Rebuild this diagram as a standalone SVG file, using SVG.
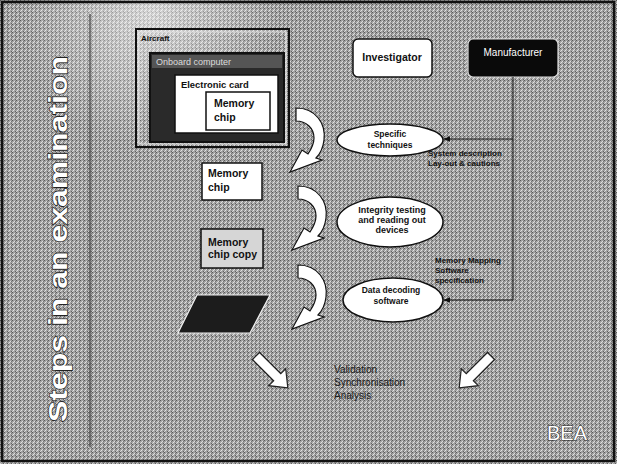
<svg xmlns="http://www.w3.org/2000/svg" width="617" height="464" viewBox="0 0 617 464">
<defs>
<pattern id="dither" width="4" height="4" patternUnits="userSpaceOnUse">
<rect width="4" height="4" fill="#a2a2a2"/>
<rect x="0" y="0" width="1" height="1" fill="#5a5a5a"/>
<rect x="2" y="1" width="1" height="1" fill="#dcdcdc"/>
<rect x="1" y="2" width="1" height="1" fill="#e2e2e2"/>
<rect x="3" y="3" width="1" height="1" fill="#626262"/>
<rect x="3" y="1" width="1" height="1" fill="#767676"/>
<rect x="0" y="3" width="1" height="1" fill="#d0d0d0"/>
</pattern>
<radialGradient id="glow" cx="150" cy="15" r="130" gradientUnits="userSpaceOnUse">
<stop offset="0" stop-color="#fff" stop-opacity="0.55"/>
<stop offset="1" stop-color="#fff" stop-opacity="0"/>
</radialGradient>
<path id="curl" d="M0 0 C20 0 30 16 28 32 C27 40 24 46 20 50 L26 52 L-6 64 L6 42 L12 46 C16 40 18 34 18 30 C18 20 10 13 0 13 Z"/>
<path id="block" d="M0 -5 L30 -5 L30 -12 L45 0 L30 12 L30 5 L0 5 Z"/>
<marker id="ah" viewBox="0 0 10 10" refX="9" refY="5" markerWidth="7" markerHeight="7" orient="auto">
<path d="M0 1 L10 5 L0 9 Z" fill="#111"/>
</marker>
</defs>
<style>
text{font-family:"Liberation Sans",Arial,sans-serif;}
.b{font-weight:bold;fill:#111;}
.box{fill:#fff;stroke:#111;stroke-width:1.5;}
.ell{fill:#fff;stroke:#111;stroke-width:1.5;}
.curl{fill:#fff;stroke:#111;stroke-width:1.2;}
.blk{fill:#fff;stroke:#222;stroke-width:1.2;}
.line{stroke:#111;stroke-width:1;fill:none;}
.note{font-size:8px;font-weight:bold;fill:#111;}
.c{text-anchor:middle;}
</style>

<rect width="617" height="464" fill="url(#dither)"/>
<rect width="617" height="464" fill="url(#glow)"/>
<rect x="2" y="2" width="612" height="459" fill="none" stroke="#111" stroke-width="2.5"/>
<line x1="90" y1="14" x2="90" y2="447" stroke="#222" stroke-width="1"/>

<g id="title">
<text transform="translate(67,422) rotate(-90)" font-size="26" font-weight="bold" fill="#fff" stroke="#222" stroke-width="1.4" paint-order="stroke" textLength="366" lengthAdjust="spacingAndGlyphs">Steps in an examination</text>
</g>

<g id="aircraft">
<rect x="136" y="29" width="153" height="118" fill="none" stroke="#111" stroke-width="2"/>
<rect x="139" y="32" width="147" height="112" fill="none" stroke="#eee" stroke-width="1"/>
<text x="141" y="41" font-size="8" class="b">Aircraft</text>
</g>

<g id="computer">
<rect x="150" y="53" width="134" height="89" fill="#2a2a2a" stroke="#111" stroke-width="2"/>
<rect x="152" y="55" width="130" height="13" fill="#555"/>
<text x="156" y="65" font-size="9" fill="#ddd">Onboard computer</text>
</g>

<g id="card">
<rect x="175" y="75" width="103" height="58" class="box"/>
<text x="181" y="88" font-size="9.4" class="b">Electronic card</text>
</g>

<g id="chip1">
<rect x="206" y="92" width="64" height="38" class="box"/>
<text x="214" y="107" font-size="10.5" class="b">Memory</text>
<text x="214" y="121" font-size="10.5" class="b">chip</text>
</g>

<g id="investigator">
<rect x="353" y="39" width="79" height="38" rx="5" class="box"/>
<text x="392" y="61" font-size="10.5" class="b c">Investigator</text>
</g>

<g id="manufacturer">
<rect x="468" y="39" width="90" height="38" rx="5" fill="#0a0a0a" stroke="#ddd" stroke-width="1.2"/>
<text x="513" y="56" font-size="10" fill="#fff" class="c">Manufacturer</text>
</g>

<g id="specific">
<ellipse cx="390" cy="140" rx="53" ry="16" class="ell"/>
<text x="390" y="137" font-size="8.5" class="b c">Specific</text>
<text x="390" y="148" font-size="8.5" class="b c">techniques</text>
</g>

<g id="integrity">
<ellipse cx="390" cy="222" rx="53" ry="25" class="ell"/>
<text x="392" y="213" font-size="9" class="b c">Integrity testing</text>
<text x="392" y="223" font-size="9" class="b c">and reading out</text>
<text x="392" y="233" font-size="9" class="b c">devices</text>
</g>

<g id="decoding">
<ellipse cx="393" cy="300" rx="50" ry="22" class="ell"/>
<text x="391" y="293" font-size="8.5" class="b c">Data decoding</text>
<text x="391" y="304" font-size="8.5" class="b c">software</text>
</g>

<g id="chip2">
<rect x="202" y="163" width="60" height="37" class="box"/>
<text x="208" y="177" font-size="10.5" class="b">Memory</text>
<text x="208" y="191" font-size="10.5" class="b">chip</text>
</g>

<g id="chipcopy">
<rect x="201" y="229" width="62" height="39" fill="#d6d6d6" stroke="#111" stroke-width="1.5"/>
<text x="208" y="246" font-size="10.5" class="b">Memory</text>
<text x="208" y="258" font-size="10.5" class="b">chip copy</text>
</g>

<g id="screen">
<polygon points="197,295 270,295 250,333 178,333" fill="#1c1c1c" stroke="#eee" stroke-width="1.2"/>
</g>

<g id="sysdesc">
<text x="428" y="156" class="note">System description</text>
<text x="428" y="166" class="note">Lay-out &amp; cautions</text>
</g>

<g id="memmap">
<text x="435" y="263" class="note">Memory Mapping</text>
<text x="435" y="273" class="note">Software</text>
<text x="435" y="283" class="note">specification</text>
</g>

<g id="results">
<text x="334" y="373" font-size="10" fill="#1a1a1a">Validation</text>
<text x="334" y="386" font-size="10" fill="#1a1a1a">Synchronisation</text>
<text x="334" y="399" font-size="10" fill="#1a1a1a">Analysis</text>
</g>

<g id="bea">
<text x="547" y="440" font-size="20" fill="#fff" stroke="#222" stroke-width="1" paint-order="stroke">BEA</text>
</g>

<g id="connectors">
<use href="#curl" transform="translate(296,108)" class="curl"/>
<use href="#curl" transform="translate(298,186)" class="curl"/>
<use href="#curl" transform="translate(298,265)" class="curl"/>
<polyline points="513,77 513,300" class="line"/>
<line x1="513" y1="139" x2="444" y2="139" class="line" marker-end="url(#ah)"/>
<line x1="513" y1="300" x2="444" y2="300" class="line" marker-end="url(#ah)"/>
<use href="#block" transform="translate(256,356) rotate(45)" class="blk"/>
<use href="#block" transform="translate(491,356) rotate(135)" class="blk"/>
</g>
</svg>
